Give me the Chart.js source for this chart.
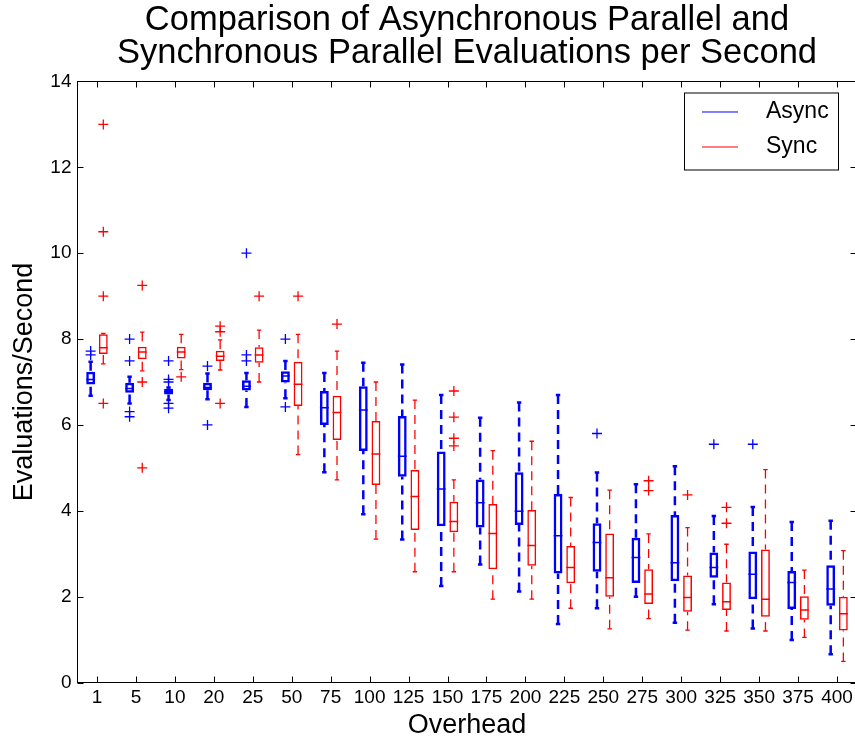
<!DOCTYPE html>
<html>
<head>
<meta charset="utf-8">
<script src="https://cdn.jsdelivr.net/npm/chart.js@4.4.1/dist/chart.umd.min.js"></script>
<style>
html,body{margin:0;padding:0;background:#fff;overflow:hidden}
canvas{display:block}
</style>
</head>
<body>
<canvas id="c" width="858" height="742" style="width:858px;height:742px"></canvas>
<script>
// ---------- data ----------
const categories = ['1','5','10','20','25','50','75','100','125','150','175','200','225','250','275','300','325','350','375','400'];
const yTicks = [0, 2, 4, 6, 8, 10, 12, 14];

const asyncLow    = [6.68, 6.50, 6.58, 6.60, 6.42, 6.62, 4.90, 3.92, 3.33, 2.25, 2.75, 2.12, 1.36, 1.73, 2.00, 1.39, 1.82, 1.26, 0.99, 0.66];
const asyncQ1     = [6.94, 6.75, 6.71, 6.81, 6.80, 6.99, 6.00, 5.39, 4.79, 3.64, 3.61, 3.67, 2.54, 2.58, 2.32, 2.36, 2.44, 1.94, 1.71, 1.79];
const asyncMedian = [7.06, 6.85, 6.77, 6.87, 6.90, 7.14, 6.40, 6.35, 5.27, 4.51, 4.19, 3.99, 3.42, 3.26, 2.91, 2.79, 2.68, 2.52, 2.33, 2.18];
const asyncQ3     = [7.24, 6.98, 6.84, 6.98, 7.04, 7.25, 6.79, 6.90, 6.21, 5.38, 4.73, 4.90, 4.39, 3.71, 3.37, 3.90, 3.03, 3.05, 2.60, 2.73];
const asyncHigh   = [7.47, 7.12, 6.87, 7.20, 7.21, 7.49, 7.21, 7.45, 7.41, 6.70, 6.17, 6.52, 6.70, 4.89, 4.62, 5.04, 3.88, 4.09, 3.74, 3.77];
const asyncOutliers = [[7.72,7.63],[8.0,7.49,6.31,6.19],[7.49,7.06,7.0,6.5,6.39],[7.37,6.0],[10.0,7.63,7.49],[8.0,6.42],[],[],[],[],[],[],[],[5.80],[],[],[5.55],[5.55],[],[]];

const syncLow    = [7.42, 7.26, 7.29, 7.28, 7.00, 5.31, 4.72, 3.34, 2.58, 2.58, 1.94, 1.94, 1.73, 1.25, 1.49, 1.22, 1.20, 1.20, 1.05, 0.49];
const syncQ1     = [7.65, 7.53, 7.55, 7.49, 7.45, 6.44, 5.65, 4.60, 3.55, 3.50, 2.64, 2.72, 2.31, 2.00, 1.83, 1.65, 1.69, 1.53, 1.46, 1.21];
const syncMedian = [7.80, 7.70, 7.70, 7.60, 7.63, 6.95, 6.29, 5.32, 4.33, 3.75, 3.47, 3.19, 2.68, 2.44, 2.06, 1.98, 1.88, 1.94, 1.69, 1.60];
const syncQ3     = [8.11, 7.82, 7.82, 7.73, 7.81, 7.47, 6.68, 6.09, 4.95, 4.21, 4.16, 4.02, 3.18, 3.47, 2.64, 2.49, 2.33, 3.10, 2.01, 2.00];
const syncHigh   = [8.13, 8.16, 8.11, 7.98, 8.21, 8.11, 7.72, 7.00, 6.58, 4.72, 5.40, 5.62, 4.31, 4.48, 3.46, 3.61, 3.22, 4.96, 2.62, 3.07];
const syncOutliers = [[13.0,10.5,9.0,6.5],[9.25,7.0,5.0],[7.12],[8.30,8.17,6.5],[9.0],[9.0],[8.35],[],[],[6.79,6.18,5.69,5.51],[],[],[],[],[4.70,4.47],[4.37],[4.08,3.71],[],[],[]];

// ---------- styling ----------
const FONT = "'Liberation Sans', Arial, Helvetica, sans-serif";
Chart.defaults.font.family = FONT;
Chart.defaults.color = '#000';

const BLUE = '#0000ff';
const RED = '#ff0000';

// whiskers, caps, medians and outliers, positioned from the bar elements and y scale
const boxParts = {
  id: 'boxParts',
  afterDatasetsDraw(chart) {
    const ctx = chart.ctx, ys = chart.scales.y, ca = chart.chartArea;
    const py = v => ys.getPixelForValue(v);
    ctx.save();
    ctx.beginPath();
    ctx.rect(ca.left, ca.top, ca.right - ca.left, ca.bottom - ca.top);
    ctx.clip();
    chart.data.datasets.forEach((ds, di) => {
      const meta = chart.getDatasetMeta(di);
      const s = ds.stats;
      ctx.strokeStyle = ds.borderColor;
      meta.data.forEach((el, i) => {
        const x = el.x, half = el.width / 2;
        // dashed whiskers
        ctx.lineWidth = ds.whiskerWidth;
        ctx.setLineDash([9, 6]);
        ctx.beginPath();
        ctx.moveTo(x, py(s.high[i])); ctx.lineTo(x, py(s.q3[i]));
        ctx.moveTo(x, py(s.low[i])); ctx.lineTo(x, py(s.q1[i]));
        ctx.stroke();
        ctx.setLineDash([]);
        // caps
        const cw = half * 0.5;
        ctx.beginPath();
        ctx.moveTo(x - cw, py(s.high[i])); ctx.lineTo(x + cw, py(s.high[i]));
        ctx.moveTo(x - cw, py(s.low[i])); ctx.lineTo(x + cw, py(s.low[i]));
        ctx.stroke();
        // median
        ctx.lineWidth = ds.medianWidth;
        ctx.beginPath();
        ctx.moveTo(x - half, py(s.median[i])); ctx.lineTo(x + half, py(s.median[i]));
        ctx.stroke();
        // outliers
        ctx.lineWidth = 1.3;
        const r = 5;
        s.outliers[i].forEach(v => {
          const yy = py(v);
          ctx.beginPath();
          ctx.moveTo(x - r, yy); ctx.lineTo(x + r, yy);
          ctx.moveTo(x, yy - r); ctx.lineTo(x, yy + r);
          ctx.stroke();
        });
      });
    });
    ctx.restore();
  }
};

// axes frame with inward tick marks, and boxed legend
const frame = {
  id: 'frame',
  afterDraw(chart) {
    const ctx = chart.ctx, ca = chart.chartArea;
    const xs = chart.scales.x, ys = chart.scales.y;
    const tl = 6;
    ctx.save();
    ctx.strokeStyle = '#000';
    ctx.lineWidth = 1;
    ctx.strokeRect(ca.left, ca.top, ca.right - ca.left, ca.bottom - ca.top);
    ctx.beginPath();
    xs.ticks.forEach((t, i) => {
      const x = Math.round(xs.getPixelForTick(i)) + 0.5;
      ctx.moveTo(x, ca.bottom); ctx.lineTo(x, ca.bottom - tl);
      ctx.moveTo(x, ca.top); ctx.lineTo(x, ca.top + tl);
    });
    ys.ticks.forEach((t, i) => {
      const y = Math.round(ys.getPixelForTick(i)) + 0.5;
      ctx.moveTo(ca.left, y); ctx.lineTo(ca.left + tl, y);
      ctx.moveTo(ca.right, y); ctx.lineTo(ca.right - tl, y);
    });
    ctx.stroke();

    // legend
    const L = ca.right - 172.5, T = ca.top + 11, W = 154, H = 77;
    ctx.fillStyle = '#fff';
    ctx.fillRect(L, T, W, H);
    ctx.strokeRect(L + 0.5, T + 0.5, W, H);
    ctx.font = '23px ' + FONT;
    ctx.textBaseline = 'middle';
    ctx.textAlign = 'left';
    chart.data.datasets.forEach((ds, k) => {
      const y = T + 19.5 + k * 35;
      ctx.strokeStyle = ds.borderColor;
      ctx.lineWidth = 1;
      ctx.beginPath();
      ctx.moveTo(L + 18, y); ctx.lineTo(L + 54, y);
      ctx.stroke();
      ctx.fillStyle = '#000';
      ctx.fillText(ds.label, L + 82, y);
    });
    ctx.restore();
  }
};

new Chart(document.getElementById('c'), {
  type: 'bar',
  data: {
    labels: categories,
    datasets: [
      {
        label: 'Async',
        data: asyncQ1.map((q, i) => [q, asyncQ3[i]]),
        stats: {low: asyncLow, q1: asyncQ1, median: asyncMedian, q3: asyncQ3, high: asyncHigh, outliers: asyncOutliers},
        borderColor: BLUE, backgroundColor: 'rgba(0,0,0,0)',
        borderWidth: 2.5, borderSkipped: false,
        whiskerWidth: 2.5, medianWidth: 1.5,
        categoryPercentage: 0.65, barPercentage: 0.7
      },
      {
        label: 'Sync',
        data: syncQ1.map((q, i) => [q, syncQ3[i]]),
        stats: {low: syncLow, q1: syncQ1, median: syncMedian, q3: syncQ3, high: syncHigh, outliers: syncOutliers},
        borderColor: RED, backgroundColor: 'rgba(0,0,0,0)',
        borderWidth: 1.5, borderSkipped: false,
        whiskerWidth: 1.3, medianWidth: 1.5,
        categoryPercentage: 0.65, barPercentage: 0.7
      }
    ]
  },
  options: {
    responsive: false,
    animation: false,
    events: [],
    layout: {padding: {left: 0, right: 1.5, top: 0, bottom: 0}},
    plugins: {
      legend: {display: false},
      tooltip: {enabled: false},
      title: {
        display: true,
        fullSize: false,
        text: ['Comparison of Asynchronous Parallel and', 'Synchronous Parallel Evaluations per Second'],
        font: {size: 34.5, weight: 'normal', lineHeight: 0.9565},
        color: '#000',
        padding: {top: 4.25, bottom: 11.25}
      }
    },
    scales: {
      x: {
        type: 'category',
        offset: true,
        grid: {display: false, drawTicks: false},
        border: {display: false},
        ticks: {font: {size: 19}, padding: 4, maxRotation: 0, autoSkip: false, color: '#000'},
        title: {display: true, text: 'Overhead', font: {size: 27, lineHeight: 1.2}, padding: {top: 0, bottom: 0}, color: '#000'},
        afterFit: s => { s.height = 59.5; }
      },
      y: {
        min: 0, max: 14,
        grid: {display: false, drawTicks: false},
        border: {display: false},
        afterBuildTicks: s => { s.ticks = yTicks.map(v => ({value: v})); },
        ticks: {font: {size: 19}, padding: 6, color: '#000'},
        title: {display: true, text: 'Evaluations/Second', font: {size: 27, lineHeight: 1.2}, padding: {top: 8, bottom: 0}, color: '#000'},
        afterFit: s => { s.width = 77.5; }
      }
    }
  },
  plugins: [boxParts, frame]
});
</script>
</body>
</html>
